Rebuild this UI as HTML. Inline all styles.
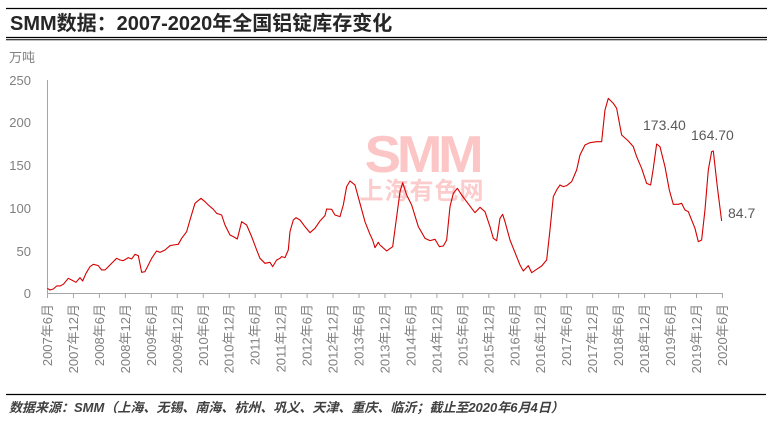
<!DOCTYPE html>
<html><head><meta charset="utf-8"><style>
body{margin:0;width:771px;height:429px;background:#fff;overflow:hidden;font-family:"Liberation Sans","Noto Sans CJK SC",sans-serif;}
</style></head><body>
<svg width="771" height="429" xmlns="http://www.w3.org/2000/svg" style="position:absolute;left:0;top:0">
<line x1="6" y1="8.5" x2="767" y2="8.5" stroke="#000" stroke-width="1.2"/>
<line x1="6" y1="37.5" x2="767" y2="37.5" stroke="#000" stroke-width="1.2"/>
<line x1="6" y1="39.8" x2="767" y2="39.8" stroke="#000" stroke-width="1"/>
<text x="10" y="30" font-size="20" font-weight="bold" fill="#262626">SMM数据：2007-2020年全国铝锭库存变化</text>
<text x="9" y="62" font-size="13" fill="#808080">万吨</text>
<g font-size="13" fill="#808080" text-anchor="end">
<text x="31" y="85">250</text><text x="31" y="127">200</text><text x="31" y="170">150</text><text x="31" y="213">100</text><text x="31" y="256">50</text><text x="31" y="298">0</text>
</g>
<text x="422" y="172" font-size="52" font-weight="bold" fill="#fcc6c6" text-anchor="middle" letter-spacing="-4" transform="translate(422,0) scale(1.05,1) translate(-422,0)">SMM</text>
<text x="422" y="199" font-size="24" font-weight="bold" fill="#fccccc" text-anchor="middle" letter-spacing="1">上海有色网</text>
<line x1="47.5" y1="80" x2="47.5" y2="293.5" stroke="#a6a6a6" stroke-width="1"/>
<line x1="47" y1="293.5" x2="723" y2="293.5" stroke="#a6a6a6" stroke-width="1"/>
<g stroke="#a6a6a6" stroke-width="1" id="ticks"></g>
<g transform="translate(0,90) scale(0.3333)">
<polyline fill="none" stroke="#d40000" stroke-width="3.3" stroke-linejoin="round" points="142,595 150,600 160,597 170,588 180,588 190,583 205,565 215,570 228,577 240,563 248,573 258,550 270,530 280,523 295,527 305,540 315,540 330,525 340,515 350,505 360,510 370,512 385,503 395,507 405,493 415,497 425,547 435,545 445,525 455,505 470,483 480,487 495,480 510,467 520,465 535,463 545,445 560,425 570,390 585,340 603,325 615,335 625,345 640,358 650,370 665,375 675,405 690,435 700,440 712,447 725,395 740,405 755,440 770,480 780,505 795,520 810,517 818,530 830,510 840,505 845,500 855,503 865,480 870,425 880,390 888,383 900,390 915,410 930,428 945,415 960,393 975,377 980,357 995,358 1005,375 1020,380 1030,345 1040,290 1050,273 1065,285 1080,340 1095,395 1110,433 1118,450 1125,473 1135,457 1140,465"/>
</g>
<g transform="translate(380,90) scale(0.3333)">
<polyline fill="none" stroke="#d40000" stroke-width="3.3" stroke-linejoin="round" points="0,465 20,483 38,470 50,380 60,305 68,278 80,315 95,345 115,410 135,445 150,452 165,448 178,470 190,468 200,450 210,350 220,310 232,295 245,315 260,335 275,355 285,368 300,352 315,365 330,410 340,445 350,452 360,385 368,373 375,395 390,450 400,475 410,500 420,525 430,543 445,527 455,548 470,538 485,528 500,510 510,420 520,320 530,300 540,285 550,290 560,287 575,275 590,240 600,195 615,165 630,158 650,155 665,155 675,60 685,25 700,40 710,55 725,135 745,153 760,170 770,200 785,235 800,280 812,285 820,235 830,162 840,170 855,230 868,300 880,343 895,343 905,340 915,360 925,365 935,390 945,415 955,455 965,450 975,360 985,240 995,185 1000,183 1012,290 1025,393"/>
</g>
<g font-size="14" fill="#595959">
<text x="643" y="130">173.40</text><text x="691" y="140">164.70</text><text x="728" y="218">84.7</text>
</g>
<g id="xl" font-size="13" fill="#808080" text-anchor="end"></g>
<line x1="6" y1="394.5" x2="766" y2="394.5" stroke="#000" stroke-width="1.2"/>
<text x="9" y="412" font-size="13" font-weight="bold" font-style="italic" fill="#404040">数据来源：SMM（上海、无锡、南海、杭州、巩义、天津、重庆、临沂；截止至2020年6月4日）</text>
<script>
var t=document.getElementById('ticks'),x=document.getElementById('xl'),ns='http://www.w3.org/2000/svg';
for(var i=0;i<=26;i++){var px=47.5+i*25.96;
var l=document.createElementNS(ns,'line');l.setAttribute('x1',px);l.setAttribute('x2',px);l.setAttribute('y1',293.5);l.setAttribute('y2',298);t.appendChild(l);
var y=2007+Math.floor(i/2),m=(i%2==0)?'6':'12';
var s=document.createElementNS(ns,'text');s.setAttribute('transform','translate('+(px+4.5)+',304) rotate(-90)');s.textContent=y+'年'+m+'月';x.appendChild(s);}
</script>
</svg>
</body></html>
